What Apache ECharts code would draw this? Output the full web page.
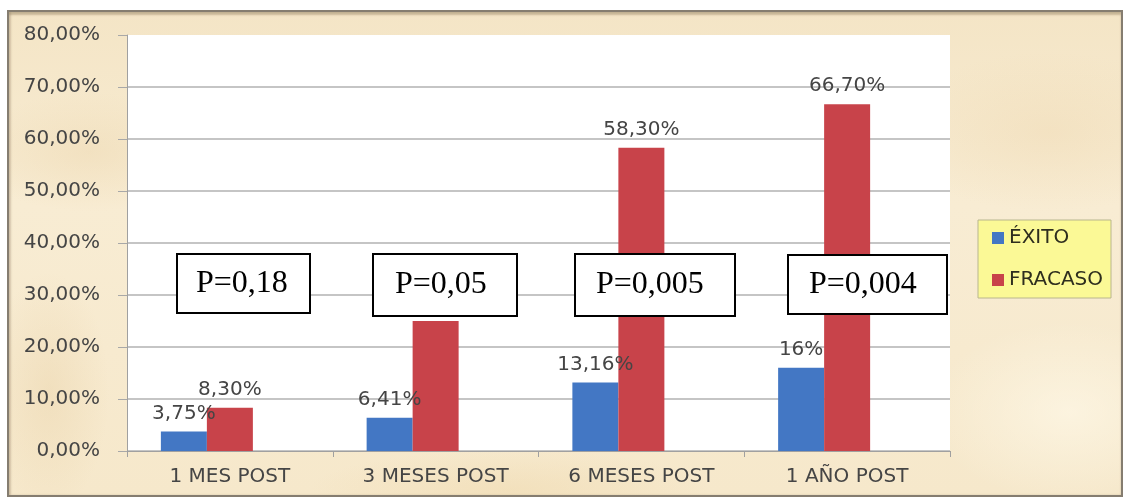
<!DOCTYPE html>
<html>
<head>
<meta charset="utf-8">
<script src="https://cdn.jsdelivr.net/npm/echarts@6/dist/echarts.min.js"></script>
<style>
  html, body { margin: 0; padding: 0; background: #ffffff; }
  #frame {
    position: absolute; left: 7px; top: 10px; width: 1116px; height: 487px;
    box-sizing: border-box;
    border: 2px solid #857d70;
    box-shadow: inset 0 3px 2px rgba(120,100,70,0.35), inset 2px 0 2px rgba(120,100,70,0.25);
    background:
      radial-gradient(ellipse 120px 60px at 80px 140px, rgba(235,212,170,0.4), rgba(235,212,170,0)),
      radial-gradient(ellipse 160px 80px at 1040px 120px, rgba(238,215,175,0.4), rgba(238,215,175,0)),
      radial-gradient(ellipse 200px 40px at 500px 478px, rgba(238,215,170,0.45), rgba(238,215,170,0)),
      radial-gradient(ellipse 140px 90px at 1060px 400px, rgba(255,250,235,0.6), rgba(255,250,235,0)),
      radial-gradient(ellipse 60px 120px at 40px 380px, rgba(232,208,165,0.4), rgba(232,208,165,0)),
      linear-gradient(180deg, #f4e5c6 0%, #f8ecd3 40%, #f6e8cb 100%);
  }
  #chart { position: absolute; left: 0; top: 0; width: 1130px; height: 499px; }
</style>
</head>
<body>
<div id="frame"></div>
<div id="chart"></div>
<script>
// ---- data ----
const categories = ['1 MES POST', '3 MESES POST', '6 MESES POST', '1 AÑO POST'];
const exitoValues = [3.75, 6.41, 13.16, 16];
const fracasoValues = [8.30, 25, 58.30, 66.70];
const exitoLabels = ['3,75%', '6,41%', '13,16%', '16%'];
const fracasoLabels = ['8,30%', '', '58,30%', '66,70%'];
const seriesNames = ['ÉXITO', 'FRACASO'];
const pLabels = ['P=0,18', 'P=0,05', 'P=0,005', 'P=0,004'];

// ---- chart ----
const chart = echarts.init(document.getElementById('chart'), null, { renderer: 'canvas' });
const axisFont = 'DejaVu Sans';
const labelStyle = { fontFamily: axisFont, fontSize: 20, color: '#454545' };

function buildData(values, labels) {
  return values.map((v, i) => ({
    value: v,
    label: { show: labels[i] !== '', formatter: labels[i] }
  }));
}

const boxes = [
  { box: [177, 254, 133, 59], tx: 196 },
  { box: [373, 254, 144, 62], tx: 395 },
  { box: [575, 254, 160, 62], tx: 596 },
  { box: [788, 255, 159, 59], tx: 809 }
];
const graphics = [];
boxes.forEach((b, i) => {
  graphics.push({
    type: 'rect', z: 100,
    shape: { x: b.box[0], y: b.box[1], width: b.box[2], height: b.box[3] },
    style: { fill: '#ffffff', stroke: '#000000', lineWidth: 2 }
  });
  graphics.push({
    type: 'text', z: 101,
    x: b.tx, y: b.box[1] + b.box[3] / 2,
    style: {
      text: pLabels[i], fill: '#000000',
      font: '32px "Liberation Serif"',
      verticalAlign: 'middle'
    }
  });
});

chart.setOption({
  backgroundColor: 'transparent',
  animation: false,
  grid: {
    left: 127, right: 180, top: 35, bottom: 48,
    show: true, backgroundColor: '#ffffff', borderWidth: 0
  },
  legend: {
    data: seriesNames,
    orient: 'vertical',
    left: 978, top: 220,
    backgroundColor: '#fbf996',
    borderColor: '#b9b68e', borderWidth: 1,
    padding: [8, 8, 8, 14],
    itemGap: 22,
    itemWidth: 12, itemHeight: 12,
    icon: 'rect',
    textStyle: { fontFamily: axisFont, fontSize: 20, color: '#2e2e1e', lineHeight: 20 }
  },
  xAxis: {
    type: 'category',
    data: categories,
    axisLine: { lineStyle: { color: '#a0a0a0', width: 1 } },
    axisTick: { show: true, length: 6, lineStyle: { color: '#a0a0a0' } },
    axisLabel: Object.assign({ margin: 16 }, labelStyle),
    splitLine: { show: false }
  },
  yAxis: {
    type: 'value',
    min: 0, max: 80, interval: 10,
    axisLine: { show: true, lineStyle: { color: '#a0a0a0', width: 1 } },
    axisTick: { show: true, length: 9, lineStyle: { color: '#a8a8a8' } },
    axisLabel: Object.assign({
      margin: 27,
      formatter: v => v.toFixed(2).replace('.', ',') + '%'
    }, labelStyle),
    splitLine: { show: true, lineStyle: { color: ['#b2b2b2','#b2b2b2','#b2b2b2','#b2b2b2','#b2b2b2','#b2b2b2','#b2b2b2','#b2b2b2','rgba(0,0,0,0)'], width: 1.5 } }
  },
  series: [
    {
      name: seriesNames[0], type: 'bar',
      data: buildData(exitoValues, exitoLabels),
      barWidth: 46, barGap: '0%',
      itemStyle: { color: '#4377c4' },
      label: { show: true, position: 'top', distance: 8, fontFamily: axisFont, fontSize: 20, color: '#454545' }
    },
    {
      name: seriesNames[1], type: 'bar',
      data: buildData(fracasoValues, fracasoLabels),
      barWidth: 46, barGap: '0%',
      itemStyle: { color: '#c8434a' },
      label: { show: true, position: 'top', distance: 8, fontFamily: axisFont, fontSize: 20, color: '#454545' }
    },
    {
      name: 'vacío', type: 'bar',
      data: categories.map(() => null),
      barWidth: 46, barGap: '0%',
      itemStyle: { color: 'rgba(0,0,0,0)' }
    }
  ],
  graphic: graphics
});
</script>
</body>
</html>
